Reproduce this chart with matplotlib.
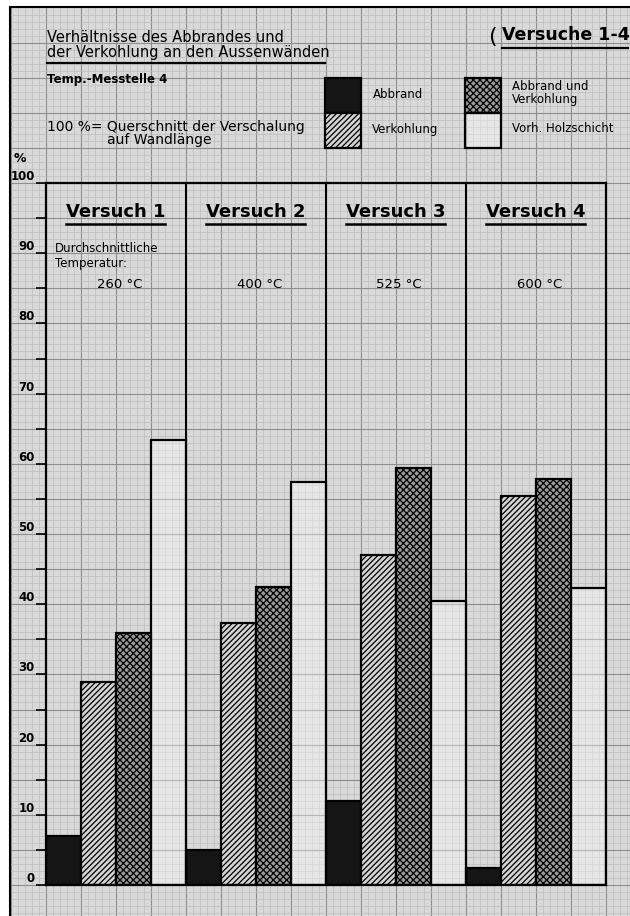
import numpy as np
import matplotlib
matplotlib.use('Agg')
import matplotlib.pyplot as plt
from matplotlib.patches import Rectangle
from matplotlib.lines import Line2D

# values (percent)
versuche = ['Versuch 1', 'Versuch 2', 'Versuch 3', 'Versuch 4']
temperaturen = ['260 °C', '400 °C', '525 °C', '600 °C']
abbrand = [7.0, 5.0, 12.0, 2.4]
verkohlung = [28.9, 37.3, 47.0, 55.4]
abbrand_verkohlung = [35.9, 42.4, 59.4, 57.8]
holzschicht = [63.4, 57.4, 40.5, 42.3]
yticks = list(range(0, 101, 10))

W, H = 630, 916
plt.rcParams['hatch.linewidth'] = 0.9
fig = plt.figure(figsize=(W / 100, H / 100), dpi=100, facecolor='white')

def fx(x):
    return x / W

def fy(y):
    return 1 - y / H

# main axes placement (pixels of the reference)
ax_l, ax_r, ax_t, ax_b = 45.7, 605.7, 183, 885
px_x = (ax_r - ax_l) / 16
px_y = (ax_b - ax_t) / 100

# graph paper background
bg = fig.add_axes([fx(10), 0, fx(W - 10), fy(7)], zorder=0)
bg.set_facecolor('#d9d9d9')
bx0, bx1 = (10 - ax_l) / px_x, (W - ax_l) / px_x
by0, by1 = -(H - ax_b) / px_y, (ax_b - 7) / px_y
bg.set_xlim(bx0, bx1)
bg.set_ylim(by0, by1)
for v in np.arange(np.ceil(bx0 / 0.2) * 0.2, bx1, 0.2):
    major = abs(v - round(v)) < 1e-6
    bg.axvline(v, color='#8e8e8e' if major else '#bdbdbd', lw=0.8 if major else 0.5)
for v in np.arange(np.ceil(by0), by1, 1):
    major = int(v) % 5 == 0
    bg.axhline(v, color='#8e8e8e' if major else '#bdbdbd', lw=0.8 if major else 0.5)
bg.set_xticks([])
bg.set_yticks([])
for s in ['right', 'bottom']:
    bg.spines[s].set_visible(False)
bg.spines['left'].set_linewidth(1.5)
bg.spines['top'].set_linewidth(1.5)

ax = fig.add_axes([fx(ax_l), fy(ax_b), fx(ax_r - ax_l), (ax_b - ax_t) / H], zorder=1)
ax.set_facecolor('none')
ax.set_xlim(0, 16)
ax.set_ylim(0, 100)

series = [
    (abbrand, dict(facecolor='#151515')),
    (verkohlung, dict(facecolor='#d4d4d4', hatch='//////')),
    (abbrand_verkohlung, dict(facecolor='#9a9a9a', hatch='xxxxx')),
    (holzschicht, dict(facecolor=(1, 1, 1, 0.35))),
]
for k, (vals, style) in enumerate(series):
    xs = [g * 4 + k + 0.5 for g in range(4)]
    ax.bar(xs, vals, width=1.0, edgecolor='black', linewidth=1.6, zorder=2, **style)

for g in range(1, 4):
    ax.axvline(g * 4, color='black', lw=1.5, zorder=3)
for s in ax.spines.values():
    s.set_linewidth(1.6)

ax.set_xticks([])
ax.set_yticks(yticks)
ax.set_yticks(range(5, 100, 10), minor=True)
ax.tick_params(axis='y', which='both', direction='out', length=7, width=1.2, pad=1,
               labelsize=8.5)
for lbl in ax.get_yticklabels():
    lbl.set_fontweight('bold')
    lbl.set_va('bottom')

# section titles and temperatures
for g in range(4):
    ax.text(g * 4 + 2, 95.9, versuche[g], ha='center', va='center', fontsize=13,
            fontweight='bold', zorder=4)
    ax.text(g * 4 + 2.1, 85.6, temperaturen[g], ha='center', va='center', fontsize=9.5,
            zorder=4)
ax.text(0.27, 90.7, 'Durchschnittliche', ha='left', va='center', fontsize=8.5, zorder=4)
ax.text(0.27, 88.6, 'Temperatur:', ha='left', va='center', fontsize=8.5, zorder=4)

# header texts
fig.text(fx(47), fy(38), 'Verhältnisse des Abbrandes und', fontsize=10.5, va='center')
fig.text(fx(47), fy(52), 'der Verkohlung an den Aussenwänden', fontsize=10.5, va='center')
fig.text(fx(47), fy(80), 'Temp.-Messtelle 4', fontsize=8.5, fontweight='bold', va='center')
fig.text(fx(47), fy(127), '100 %= Querschnitt der Verschalung', fontsize=10, va='center')
fig.text(fx(107), fy(140), 'auf Wandlänge', fontsize=10, va='center')
fig.text(fx(488), fy(37), '(', fontsize=16, va='center')
fig.text(fx(502), fy(35), 'Versuche 1-4', fontsize=12.5, fontweight='bold', va='center')
fig.text(fx(20), fy(158), '%', fontsize=9, fontweight='bold', va='center', ha='center')

fig.add_artist(Line2D([fx(47), fx(325)], [fy(63), fy(63)], color='black', lw=1.6))
fig.add_artist(Line2D([fx(502), fx(628)], [fy(48), fy(48)], color='black', lw=1.6))

# legend boxes
legend = [
    (325, 78, 'Abbrand', 373, 94, series[0][1]),
    (325, 113, 'Verkohlung', 372, 130, series[1][1]),
    (465, 78, 'Abbrand und\nVerkohlung', 512, 93, series[2][1]),
    (465, 113, 'Vorh. Holzschicht', 512, 128, series[3][1]),
]
for (x0, y0, label, tx, ty, style) in legend:
    r = Rectangle((fx(x0), fy(y0 + 35)), fx(36), 35 / H, transform=fig.transFigure,
                  edgecolor='black', linewidth=1.6, zorder=3, **style)
    fig.add_artist(r)
    fig.text(fx(tx), fy(ty), label, fontsize=8.5, va='center', linespacing=1.0)

# underline the section titles
fig.canvas.draw()
renderer = fig.canvas.get_renderer()
for t in ax.texts:
    if t.get_text().startswith('Versuch'):
        bb = t.get_window_extent(renderer)
        yline = bb.y0 - 3
        fig.add_artist(Line2D([bb.x0 / W, bb.x1 / W], [yline / H, yline / H],
                              color='black', lw=1.8))

fig.savefig('out.png', dpi=100, facecolor='white')
